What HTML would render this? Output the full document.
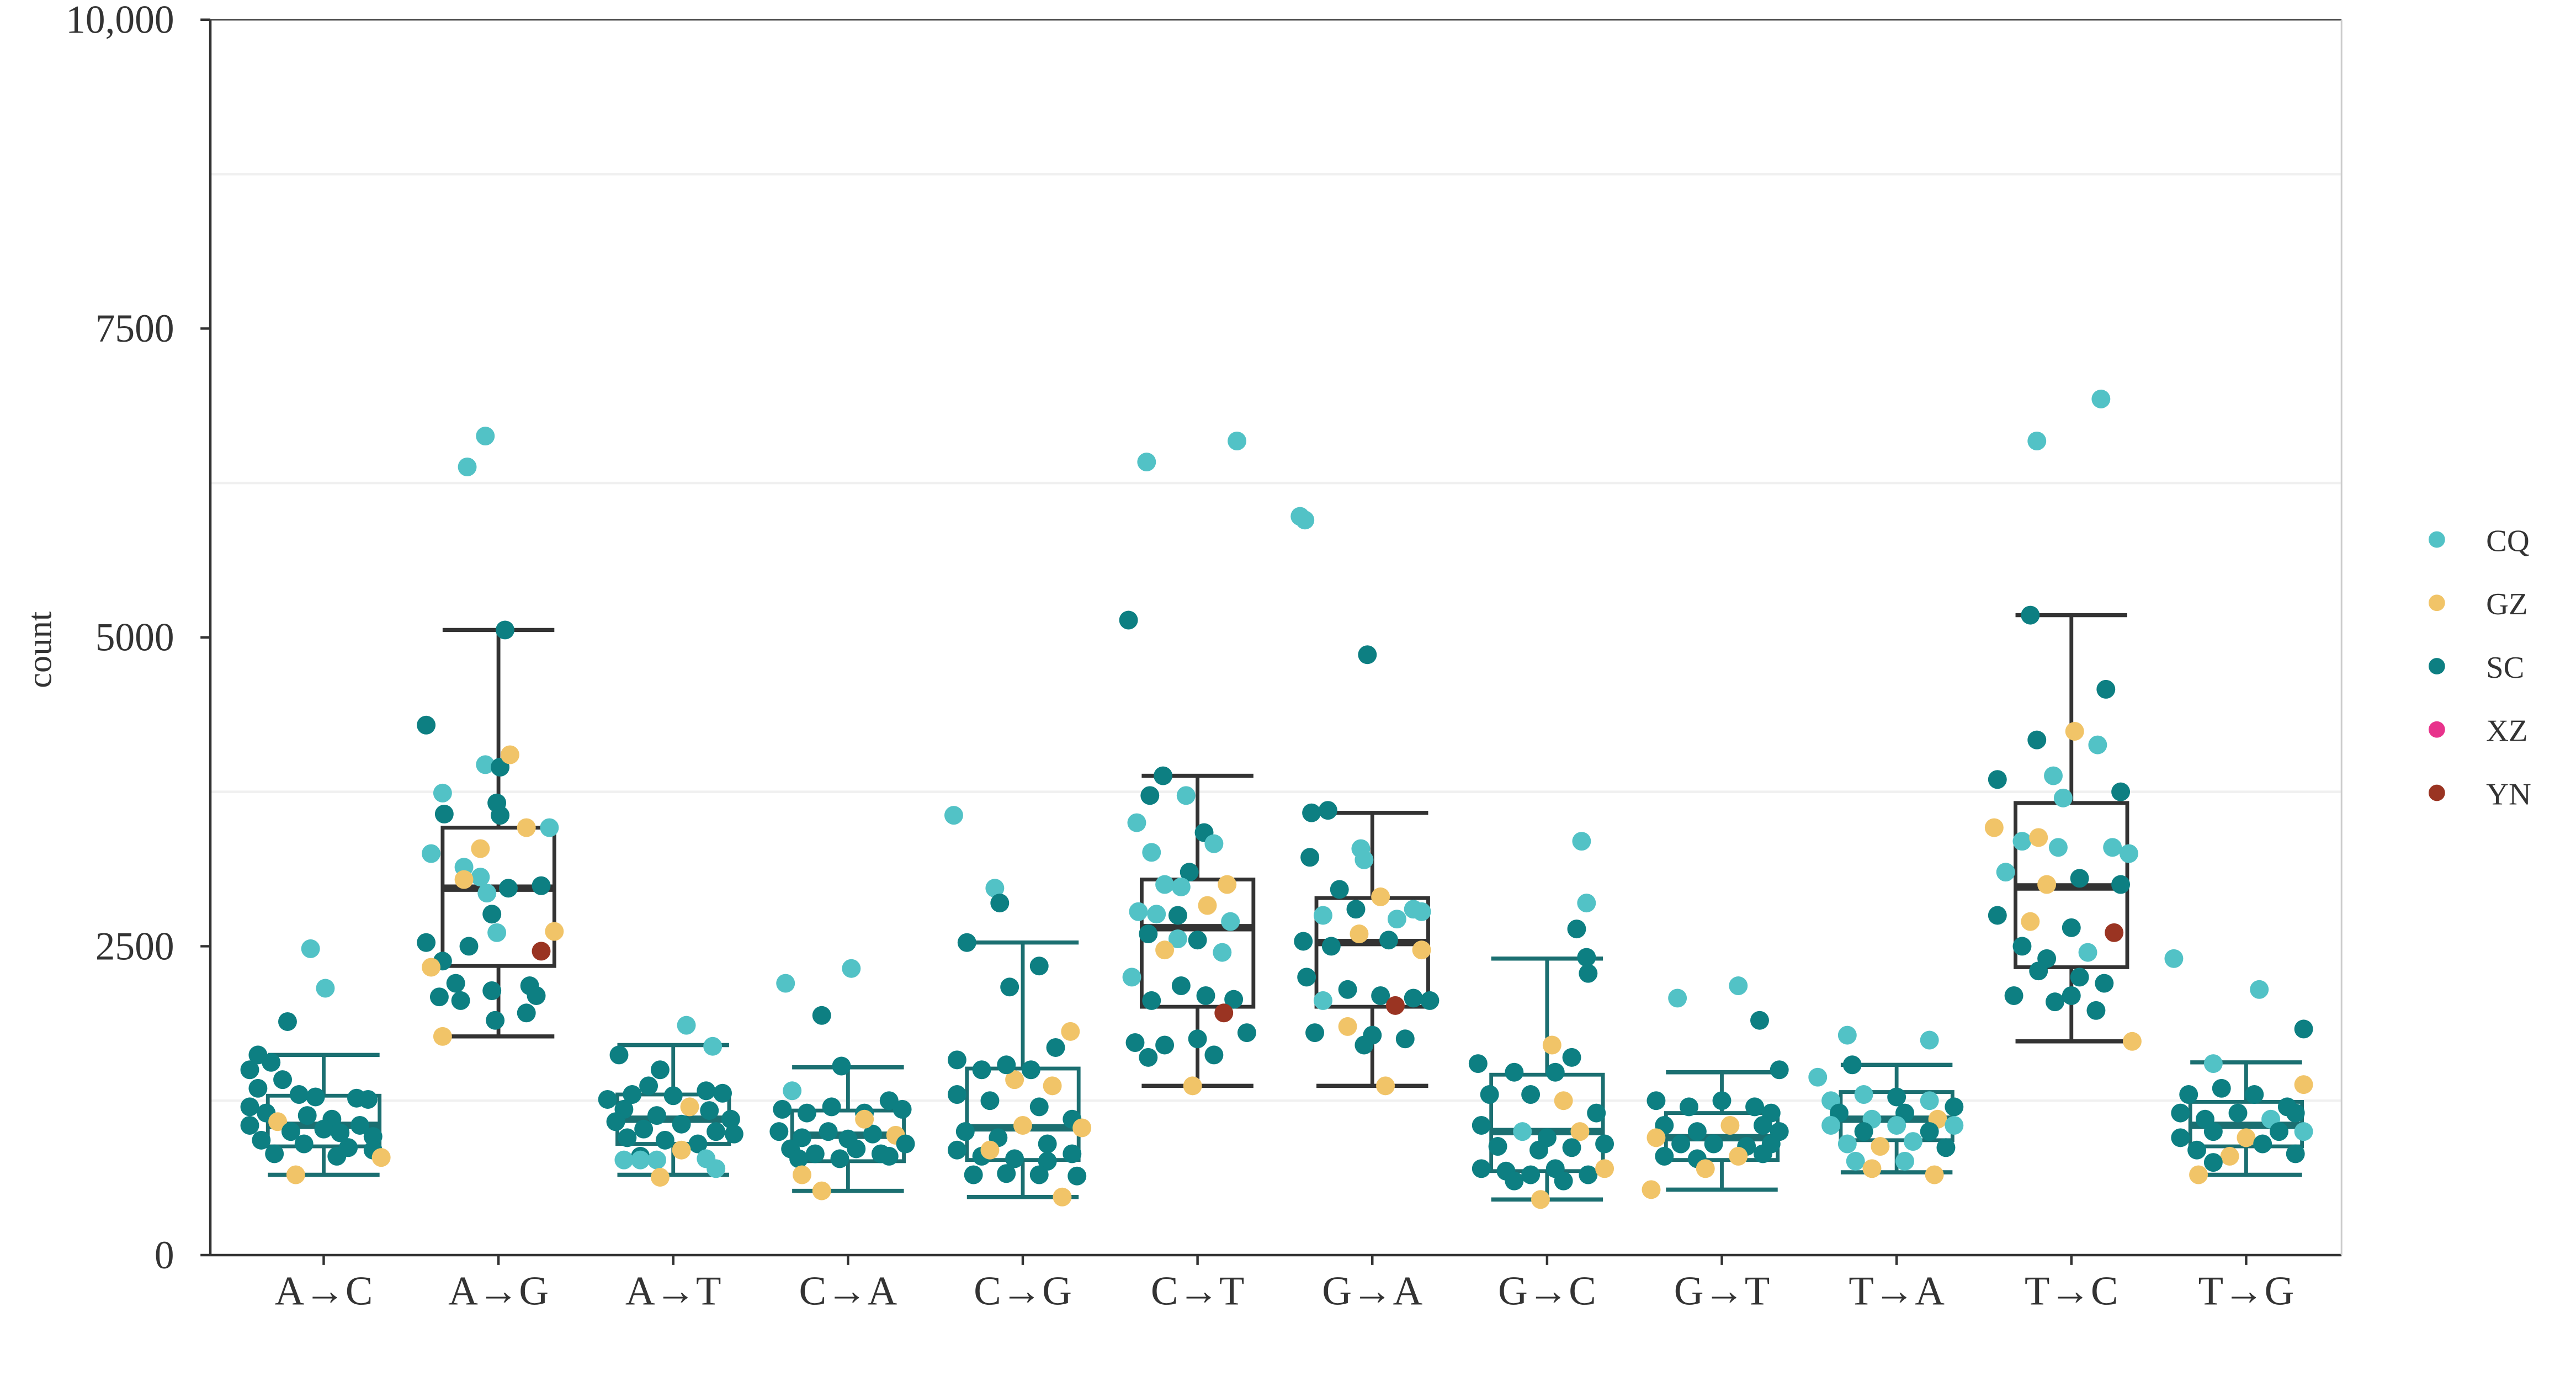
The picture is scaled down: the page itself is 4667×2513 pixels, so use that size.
<!DOCTYPE html>
<html><head><meta charset="utf-8">
<style>
html,body{margin:0;padding:0;background:#fff;}
svg{display:block;}
text{font-family:"Liberation Serif","DejaVu Serif",serif;fill:#333;}
</style></head>
<body>
<svg id="chart" width="4667" height="2513" viewBox="0 0 1567.7 843.2" preserveAspectRatio="none" xmlns="http://www.w3.org/2000/svg">
<g id="grid"></g>
<g id="boxes"></g>
<g id="points"></g>
<g id="axes"></g>
<g id="legend"></g>
</svg>
<script>
const categories = ["A→C","A→G","A→T","C→A","C→G","C→T","G→A","G→C","G→T","T→A","T→C","T→G"];
const boxLow  = [650,1770,650,520,470,1370,1370,450,530,670,1730,650];
const boxQ1   = [880,2340,900,760,770,2010,2010,680,770,930,2330,880];
const boxMed  = [1050,2970,1100,970,1030,2650,2530,1000,950,1100,2980,1050];
const boxQ3   = [1290,3460,1300,1170,1510,3040,2890,1460,1150,1320,3660,1240];
const boxHigh = [1620,5060,1700,1520,2530,3880,3580,2400,1480,1540,5180,1560];
const yTicks = [0,2500,5000,7500,10000];
const yTickLabels = ["0","2500","5000","7500","10,000"];
const regions = ["CQ","GZ","SC","XZ","YN"];
const regionColors = {CQ:"#52c2c6",GZ:"#f1c468",SC:"#0d7f82",XZ:"#e8338c",YN:"#9a3422"};
// points per category: [jitter, value, region]
const pAC = [[-8,2480,"CQ"],[1,2160,"CQ"],[-22,1890,"SC"],[-40,1620,"SC"],[-32,1560,"SC"],[-45,1500,"SC"],[-25,1420,"SC"],[-40,1350,"SC"],[-15,1300,"SC"],[-5,1280,"SC"],[20,1270,"SC"],[27,1260,"SC"],[-45,1200,"SC"],[-35,1150,"SC"],[-10,1130,"SC"],[5,1100,"SC"],[-45,1050,"SC"],[-28,1080,"GZ"],[-20,1000,"SC"],[0,1020,"SC"],[10,990,"SC"],[22,1050,"SC"],[30,960,"SC"],[-38,930,"SC"],[-12,900,"SC"],[15,870,"SC"],[-30,820,"SC"],[8,800,"SC"],[30,850,"SC"],[-17,650,"GZ"],[35,790,"GZ"]];
const pAG = [[-19,6380,"CQ"],[-8,6630,"CQ"],[-44,4290,"SC"],[4,5060,"SC"],[-34,3740,"CQ"],[-33,3570,"SC"],[-8,3970,"CQ"],[1,3950,"SC"],[7,4050,"GZ"],[-1,3660,"SC"],[1,3560,"SC"],[31,3460,"CQ"],[17,3460,"GZ"],[-41,3250,"CQ"],[-11,3290,"GZ"],[-21,3140,"CQ"],[-11,3060,"CQ"],[-21,3040,"GZ"],[6,2970,"SC"],[-7,2930,"CQ"],[26,2990,"SC"],[-4,2760,"SC"],[-1,2610,"CQ"],[34,2620,"GZ"],[-44,2530,"SC"],[-34,2380,"SC"],[-18,2500,"SC"],[26,2460,"YN"],[-41,2330,"GZ"],[-26,2200,"SC"],[-36,2090,"SC"],[-23,2060,"SC"],[-4,2140,"SC"],[19,2180,"SC"],[23,2100,"SC"],[-2,1900,"SC"],[17,1960,"SC"],[-34,1770,"GZ"]];
const pAT = [[8,1860,"CQ"],[24,1690,"CQ"],[-33,1620,"SC"],[-15,1370,"SC"],[-8,1500,"SC"],[20,1330,"SC"],[-40,1260,"SC"],[-25,1300,"SC"],[0,1290,"SC"],[30,1310,"SC"],[-30,1180,"SC"],[-10,1130,"SC"],[10,1200,"GZ"],[22,1170,"SC"],[35,1100,"SC"],[-35,1080,"SC"],[-18,1020,"SC"],[5,1060,"SC"],[26,1000,"SC"],[-28,950,"SC"],[-5,930,"SC"],[15,900,"SC"],[37,980,"SC"],[-20,800,"SC"],[5,850,"GZ"],[-30,770,"CQ"],[-20,770,"CQ"],[-10,770,"CQ"],[20,780,"CQ"],[26,700,"CQ"],[-8,630,"GZ"]];
const pCA = [[-38,2200,"CQ"],[2,2320,"CQ"],[-16,1940,"SC"],[-4,1530,"SC"],[-34,1330,"CQ"],[-40,1180,"SC"],[-25,1150,"SC"],[-10,1200,"SC"],[10,1150,"SC"],[25,1250,"SC"],[33,1180,"SC"],[-42,1000,"SC"],[-28,950,"SC"],[-12,1000,"SC"],[0,940,"SC"],[15,980,"SC"],[29,970,"GZ"],[35,900,"SC"],[-35,860,"SC"],[-20,820,"SC"],[5,860,"SC"],[20,820,"SC"],[-30,780,"SC"],[-5,780,"SC"],[25,800,"SC"],[-28,650,"GZ"],[-16,520,"GZ"],[10,1100,"GZ"]];
const pCG = [[-42,3560,"CQ"],[-17,2970,"CQ"],[-14,2850,"SC"],[-34,2530,"SC"],[-8,2170,"SC"],[10,2340,"SC"],[29,1810,"GZ"],[18,1370,"GZ"],[-5,1420,"GZ"],[-40,1580,"SC"],[-25,1500,"SC"],[-10,1540,"SC"],[5,1500,"SC"],[20,1680,"SC"],[-40,1300,"SC"],[-20,1250,"SC"],[10,1200,"SC"],[30,1100,"SC"],[-35,1000,"SC"],[-15,950,"SC"],[0,1050,"GZ"],[15,900,"SC"],[36,1030,"GZ"],[-40,850,"SC"],[-25,800,"SC"],[-5,780,"SC"],[15,760,"SC"],[30,820,"SC"],[-30,650,"SC"],[-10,660,"SC"],[10,650,"SC"],[33,640,"SC"],[-20,850,"GZ"],[24,470,"GZ"]];
const pCT = [[-31,6420,"CQ"],[24,6590,"CQ"],[-42,5140,"SC"],[-21,3880,"SC"],[-29,3720,"SC"],[-7,3720,"CQ"],[-37,3500,"CQ"],[4,3420,"SC"],[10,3330,"CQ"],[-28,3260,"CQ"],[-5,3100,"SC"],[-20,3000,"CQ"],[-10,2980,"CQ"],[18,3000,"GZ"],[-36,2780,"CQ"],[-25,2760,"CQ"],[-12,2750,"SC"],[6,2830,"GZ"],[20,2700,"CQ"],[-30,2600,"SC"],[-12,2560,"CQ"],[0,2550,"SC"],[-20,2470,"GZ"],[15,2450,"CQ"],[-40,2250,"CQ"],[-28,2060,"SC"],[-10,2180,"SC"],[5,2100,"SC"],[22,2070,"SC"],[30,1800,"SC"],[16,1960,"YN"],[-38,1720,"SC"],[-20,1700,"SC"],[0,1750,"SC"],[10,1620,"SC"],[-30,1600,"SC"],[-3,1370,"GZ"]];
const pGA = [[-44,5980,"CQ"],[-41,5950,"CQ"],[-3,4860,"SC"],[-37,3580,"SC"],[-27,3600,"SC"],[-7,3290,"CQ"],[-38,3220,"SC"],[-5,3200,"CQ"],[-20,2960,"SC"],[5,2900,"GZ"],[25,2800,"CQ"],[-30,2750,"CQ"],[-10,2800,"SC"],[15,2720,"CQ"],[30,2780,"CQ"],[-42,2540,"SC"],[-25,2500,"SC"],[-8,2600,"GZ"],[10,2550,"SC"],[30,2470,"GZ"],[-40,2250,"SC"],[-30,2060,"CQ"],[-15,2150,"SC"],[5,2100,"SC"],[25,2080,"SC"],[35,2060,"SC"],[-35,1800,"SC"],[-15,1850,"GZ"],[0,1780,"SC"],[14,2020,"YN"],[20,1750,"SC"],[-5,1700,"SC"],[8,1370,"GZ"]];
const pGC = [[21,3350,"CQ"],[24,2850,"CQ"],[18,2640,"SC"],[24,2410,"SC"],[25,2280,"SC"],[3,1700,"GZ"],[-42,1550,"SC"],[-20,1480,"SC"],[5,1480,"SC"],[15,1600,"SC"],[-35,1300,"SC"],[-10,1300,"SC"],[10,1250,"GZ"],[30,1150,"SC"],[-40,1050,"SC"],[-15,1000,"CQ"],[0,950,"SC"],[20,1000,"GZ"],[-30,880,"SC"],[-5,850,"SC"],[15,870,"SC"],[35,900,"SC"],[-40,700,"SC"],[-25,680,"SC"],[-10,650,"SC"],[5,700,"SC"],[25,650,"SC"],[35,700,"GZ"],[-20,600,"SC"],[10,600,"SC"],[-4,450,"GZ"]];
const pGT = [[-27,2080,"CQ"],[10,2180,"CQ"],[23,1900,"SC"],[35,1500,"SC"],[-40,1250,"SC"],[-20,1200,"SC"],[0,1250,"SC"],[20,1200,"SC"],[30,1150,"SC"],[-35,1050,"SC"],[-15,1000,"SC"],[5,1050,"GZ"],[25,1050,"SC"],[35,1000,"SC"],[-40,950,"GZ"],[-25,900,"SC"],[-5,900,"SC"],[15,880,"SC"],[30,900,"SC"],[-35,800,"SC"],[-15,780,"SC"],[10,800,"GZ"],[25,820,"SC"],[-10,700,"GZ"],[-43,530,"GZ"]];
const pTA = [[-30,1780,"CQ"],[20,1740,"CQ"],[-27,1540,"SC"],[-48,1440,"CQ"],[-40,1250,"CQ"],[-20,1300,"CQ"],[0,1280,"SC"],[20,1250,"CQ"],[35,1200,"SC"],[-35,1150,"SC"],[-15,1100,"CQ"],[5,1150,"SC"],[25,1100,"GZ"],[-40,1050,"CQ"],[-20,1000,"SC"],[0,1050,"CQ"],[20,1000,"SC"],[35,1050,"CQ"],[-30,900,"CQ"],[-10,880,"GZ"],[10,920,"CQ"],[30,870,"SC"],[-25,760,"CQ"],[5,760,"CQ"],[-15,700,"GZ"],[23,650,"GZ"]];
const pTC = [[-21,6590,"CQ"],[18,6930,"CQ"],[-25,5180,"SC"],[21,4580,"SC"],[2,4240,"GZ"],[-21,4170,"SC"],[16,4130,"CQ"],[-45,3850,"SC"],[-11,3880,"CQ"],[-5,3700,"CQ"],[30,3750,"SC"],[-47,3460,"GZ"],[-30,3350,"CQ"],[-20,3380,"GZ"],[-8,3300,"CQ"],[25,3300,"CQ"],[35,3250,"CQ"],[-40,3100,"CQ"],[-15,3000,"GZ"],[5,3050,"SC"],[30,3000,"SC"],[-45,2750,"SC"],[-25,2700,"GZ"],[0,2650,"SC"],[26,2610,"YN"],[-30,2500,"SC"],[-15,2400,"SC"],[10,2450,"CQ"],[-20,2300,"SC"],[5,2250,"SC"],[20,2200,"SC"],[-35,2100,"SC"],[-10,2050,"SC"],[15,1980,"SC"],[37,1730,"GZ"],[0,2100,"SC"]];
const pTG = [[-44,2400,"CQ"],[8,2150,"CQ"],[35,1830,"SC"],[-20,1550,"CQ"],[-35,1300,"SC"],[-15,1350,"SC"],[5,1300,"SC"],[25,1200,"SC"],[35,1380,"GZ"],[-40,1150,"SC"],[-25,1100,"SC"],[-5,1150,"SC"],[15,1100,"CQ"],[30,1150,"SC"],[-40,950,"SC"],[-20,1000,"SC"],[0,950,"GZ"],[20,1000,"SC"],[-30,850,"SC"],[-10,800,"GZ"],[10,900,"SC"],[30,820,"SC"],[35,1000,"CQ"],[-20,750,"SC"],[-29,650,"GZ"]];
const pointSets = [pAC,pAG,pAT,pCA,pCG,pCT,pGA,pGC,pGT,pTA,pTC,pTG];

const NS="http://www.w3.org/2000/svg";
const L=128,R=1425,T=12,B=763;
function yScale(v){return B-(v/10000)*(B-T);}
function xScale(i){return 197+i*106.36;}
function mk(tag,attrs,parent){const e=document.createElementNS(NS,tag);for(const k in attrs)e.setAttribute(k,attrs[k]);parent.appendChild(e);return e;}
const gGrid=document.getElementById('grid'),gBox=document.getElementById('boxes'),gPts=document.getElementById('points'),gAx=document.getElementById('axes'),gLeg=document.getElementById('legend');

[1250,3750,6250,8750].forEach(v=>{
  const l=mk('line',{x1:L,x2:R,y1:yScale(v),y2:yScale(v),stroke:"#f0f0f0","stroke-width":1.5},gGrid);
  
  
});

const grayCats=[1,5,6,10];
categories.forEach((c,i)=>{
  const cx=xScale(i),hw=34,col=grayCats.includes(i)?"#333333":"#1b6f71";
  const g=mk('g',{},gBox);
  
  
  mk('line',{x1:cx,x2:cx,y1:yScale(boxHigh[i]),y2:yScale(boxQ3[i]),stroke:col,"stroke-width":2.3},g);
  mk('line',{x1:cx,x2:cx,y1:yScale(boxQ1[i]),y2:yScale(boxLow[i]),stroke:col,"stroke-width":2.3},g);
  mk('line',{x1:cx-hw,x2:cx+hw,y1:yScale(boxHigh[i]),y2:yScale(boxHigh[i]),stroke:col,"stroke-width":2.5},g);
  mk('line',{x1:cx-hw,x2:cx+hw,y1:yScale(boxLow[i]),y2:yScale(boxLow[i]),stroke:col,"stroke-width":2.5},g);
  mk('rect',{x:cx-hw,y:yScale(boxQ3[i]),width:hw*2,height:yScale(boxQ1[i])-yScale(boxQ3[i]),fill:"none",stroke:col,"stroke-width":2.3},g);
  mk('line',{x1:cx-hw,x2:cx+hw,y1:yScale(boxMed[i]),y2:yScale(boxMed[i]),stroke:col,"stroke-width":4.5},g);
});

pointSets.forEach((set,i)=>{
  set.forEach(p=>{
    const c=mk('circle',{cx:xScale(i)+p[0],cy:yScale(p[1]),r:5.7,fill:regionColors[p[2]]},gPts);
    
    
  });
});

const yl=mk('line',{x1:L,x2:L,y1:T,y2:B,stroke:"#333","stroke-width":1.5},gAx);


const xl=mk('line',{x1:L,x2:R,y1:B,y2:B,stroke:"#333","stroke-width":1.5},gAx);


const tl=mk('line',{x1:L,x2:R,y1:T,y2:T,stroke:"#444","stroke-width":1},gAx);


const rl=mk('line',{x1:R,x2:R,y1:T,y2:B,stroke:"#ccc","stroke-width":1},gAx);


yTicks.forEach((v,k)=>{
  mk('line',{x1:L-6,x2:L,y1:yScale(v),y2:yScale(v),stroke:"#333","stroke-width":1.5},gAx);
  const t=mk('text',{x:L-22,y:yScale(v)+8,"text-anchor":"end","font-size":24},gAx);
  t.textContent=yTickLabels[k];
  
  
});
categories.forEach((c,i)=>{
  mk('line',{x1:xScale(i),x2:xScale(i),y1:B,y2:B+6,stroke:"#333","stroke-width":1.5},gAx);
  const t=mk('text',{x:xScale(i),y:B+30,"text-anchor":"middle","font-size":25},gAx);
  t.textContent=c;
  
  
});
const yt=mk('text',{x:0,y:0,transform:"translate(31,395) rotate(-90)","text-anchor":"middle","font-size":21},gAx);
yt.textContent="count";



regions.forEach((r,k)=>{
  const y=328+k*38.5;
  const c=mk('circle',{cx:1483,cy:y,r:5,fill:regionColors[r]},gLeg);
  
  
  const t=mk('text',{x:1513,y:y+7,"font-size":19},gLeg);
  t.textContent=r;
  
  
});
</script>
</body></html>
